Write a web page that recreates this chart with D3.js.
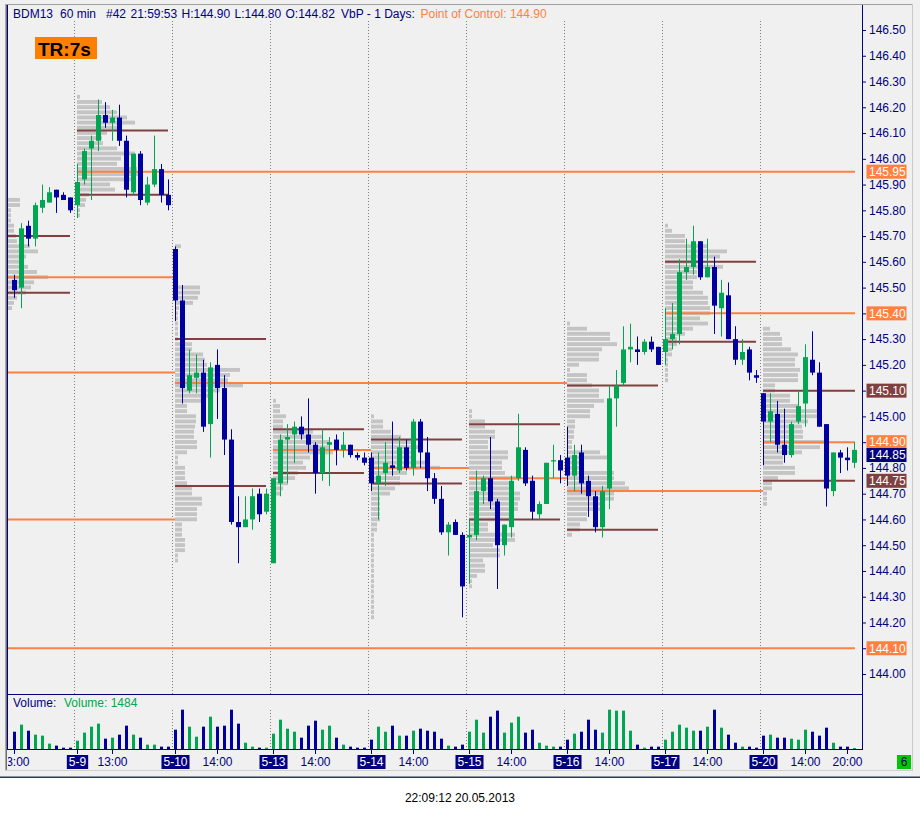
<!DOCTYPE html>
<html>
<head>
<meta charset="utf-8">
<title>BDM13 60 min VbP</title>
<script src="https://cdn.jsdelivr.net/npm/d3@7/dist/d3.min.js"></script>
<style>
html,body{margin:0;padding:0;background:#ffffff;}
svg{display:block;font-family:"Liberation Sans",Arial,Helvetica,sans-serif;}
</style>
</head>
<body>
<svg id="chart" width="920" height="813"></svg>
<script>
// ---------------- DATA ----------------
const dayLabels   = ["5-8","5-9","5-10","5-13","5-14","5-15","5-16","5-17","5-20"];
const dayStart    = [0, 9, 23, 37, 51, 65, 79, 93, 107];
const dayFirstHour = [13, 8, 8, 8, 8, 8, 8, 8, 8];
const sessionOpenHour = 8;

const opens = [
 145.53,145.50,145.74,145.69,145.81,145.83,145.88,145.86,145.85,
 145.82,145.92,146.04,146.07,146.17,146.14,146.16,146.07,145.87,146.02,145.83,145.90,145.96,145.86,
 145.65,145.45,145.10,145.15,145.17,144.97,145.20,145.11,144.91,144.59,144.57,144.60,144.70,144.63,
 144.43,144.74,144.91,144.93,144.96,144.93,144.89,144.78,144.89,144.91,144.87,144.89,144.85,144.84,
 144.84,144.74,144.78,144.81,144.79,144.88,144.80,144.98,144.86,144.76,144.68,144.55,144.59,144.54,
 144.53,144.54,144.71,144.76,144.67,144.50,144.57,144.76,144.87,144.75,144.62,144.66,144.825,144.83,
 144.84,144.77,144.86,144.75,144.69,144.57,144.72,145.07,145.13,145.26,145.26,145.25,145.29,145.27,
 145.25,145.30,145.32,145.56,145.58,145.68,145.54,145.58,145.42,145.47,145.30,145.22,145.26,145.16,
 145.09,144.98,145.01,144.89,144.85,144.98,145.05,145.22,145.17,144.97,144.71,144.86,144.84,144.82
];
const highs = [
 145.55,145.75,145.76,145.83,145.90,145.89,145.88,145.87,145.85,
 145.98,146.04,146.09,146.23,146.22,146.19,146.21,146.09,146.02,146.03,145.93,146.09,145.98,145.92,
 145.66,145.51,145.26,145.24,145.22,145.21,145.26,145.16,144.95,144.69,144.69,144.72,144.72,144.72,
 144.76,144.93,144.97,144.98,145.00,145.07,144.90,144.95,144.92,144.93,144.94,144.89,144.86,144.86,
 144.86,144.86,144.90,144.98,144.92,144.91,144.99,144.99,144.92,144.78,144.73,144.59,144.60,144.55,
 144.60,144.79,144.77,144.92,144.68,144.58,144.77,145.01,144.88,144.77,144.67,144.82,144.89,144.85,
 144.96,144.89,144.89,144.77,144.71,144.73,145.12,145.18,145.35,145.36,145.31,145.30,145.31,145.27,
 145.42,145.44,145.61,145.69,145.74,145.68,145.69,145.62,145.53,145.52,145.35,145.30,145.27,145.18,
 145.09,145.09,145.06,145.03,144.98,145.10,145.28,145.33,145.21,144.97,144.86,144.87,144.88,144.90
];
const lows = [
 145.46,145.42,145.66,145.66,145.79,145.83,145.79,145.84,145.79,
 145.77,145.90,145.84,146.03,146.12,146.07,146.05,145.85,145.86,145.82,145.82,145.89,145.83,145.80,
 145.37,145.05,145.09,145.09,144.94,144.84,144.99,144.85,144.58,144.43,144.57,144.56,144.59,144.62,
 144.43,144.69,144.74,144.82,144.91,144.86,144.70,144.75,144.73,144.81,144.84,144.84,144.83,144.81,
 144.71,144.60,144.73,144.77,144.78,144.79,144.77,144.80,144.71,144.66,144.54,144.46,144.54,144.22,
 144.35,144.52,144.66,144.64,144.33,144.46,144.53,144.75,144.73,144.60,144.60,144.66,144.76,144.74,
 144.73,144.71,144.70,144.61,144.55,144.53,144.64,144.96,145.12,145.21,145.20,145.24,145.25,145.20,
 145.20,145.26,145.28,145.53,145.55,145.53,145.54,145.32,145.31,145.30,145.20,145.20,145.14,145.13,
 144.81,144.90,144.86,144.82,144.84,144.97,144.96,145.16,144.96,144.65,144.69,144.78,144.79,144.80
];
const closes = [
 145.49,145.73,145.69,145.82,145.84,145.87,145.85,145.84,145.80,
 145.91,146.03,146.07,146.17,146.14,146.16,146.07,145.88,146.02,145.84,145.90,145.96,145.86,145.82,
 145.45,145.11,145.16,145.17,144.96,145.19,145.11,144.91,144.59,144.57,144.60,144.69,144.62,144.70,
 144.76,144.91,144.92,144.96,144.93,144.89,144.78,144.88,144.90,144.87,144.89,144.85,144.84,144.82,
 144.74,144.77,144.82,144.80,144.88,144.80,144.98,144.86,144.76,144.68,144.55,144.58,144.54,144.34,
 144.54,144.71,144.76,144.67,144.50,144.58,144.75,144.88,144.74,144.63,144.66,144.82,144.83,144.79,
 144.77,144.85,144.74,144.69,144.57,144.71,145.07,145.12,145.26,145.27,145.25,145.29,145.26,145.20,
 145.30,145.32,145.56,145.58,145.68,145.54,145.58,145.43,145.48,145.30,145.22,145.25,145.17,145.15,
 144.98,145.02,144.89,144.85,144.97,145.04,145.23,145.17,144.96,144.72,144.86,144.84,144.83,144.87
];
const volumes = [
 25800,36300,27300,21400,19900,8000,5000,2000,2000,
 12400,24400,33300,37800,15400,16900,21400,34800,21400,16900,6500,6500,3500,3500,
 28800,58600,33300,18400,33300,48200,33300,34800,58600,37800,9400,3500,2000,2000,
 22900,43700,30300,25800,16900,34800,42200,28800,34800,16900,6500,3500,2000,2000,
 13900,33300,25800,34800,19900,19900,27300,30300,27300,25800,15400,5000,3500,6500,
 25800,43700,24400,48200,57200,24400,39300,48200,24400,28800,9400,5000,3500,3500,
 13900,22900,25800,43700,28800,24400,58600,57200,57200,27300,6500,2000,3500,3500,
 13900,25800,36300,31800,27300,27300,33300,58600,31800,21400,9400,3500,3500,2000,
 19900,21400,16900,16900,15400,13900,28800,25800,19900,31800,9400,3500,3500,1484
];

// Volume-by-price (1 day) levels: value area and point of control per day
const vaHigh = [145.70, 146.11, 145.30, 144.95, 144.91, 144.97, 145.12, 145.60, 145.10];
const vaLow  = [145.48, 145.86, 144.73, 144.78, 144.74, 144.60, 144.56, 145.29, 144.75];
const poc    = [145.54, 145.95, 145.13, 144.87, 144.80, 144.76, 144.71, 145.40, 144.90];
const pocTouchedDay = [2, null, 6, 4, 5, 6, 8, null, null];
const priorPoc = [145.17, 144.60, 144.10];
const priorPocTouchedDay = [2, 2, null];
const lastPrice = 144.85;

// Volume profiles: values from the top price downward in 0.02 steps
const profileStep = 0.02;
const profileTop = [145.84, 146.24, 145.66, 145.06, 145.00, 145.02, 145.36, 145.74, 145.34];
const profile_0508 = [12,12,3,3,3,6,6,8,9,22,30,18,14,20,29,40,26,23,18,9,6,4];
const profile_0509 = [3,25,33,40,50,58,40,30,25,26,40,58,44,40,60,66,55,33,38,12,9,8,3,3];
const profile_0510 = [6,2,2,2,2,2,3,3,25,25,23,18,4,3,3,3,3,3,3,17,17,28,30,32,65,55,53,68,45,35,30,12,12,21,21,20,19,19,22,22,12,3,3,10,10,10,12,17,17,27,27,22,22,22,7,7,7,10,10,10,3,3];
const profile_0513 = [3,7,7,13,10,10,40,50,57,57,60,37,30,33,25,22,15,10,7,3,3,3,3,3,3,3,3,3,3,3,3,3];
const profile_0514 = [3,12,12,20,30,40,49,44,44,55,69,36,29,29,24,19,9,9,9,9,9,6,6,3,3,3,3,3,3,3,3,3,3,3,3,3,3,3,3,3];
const profile_0515 = [3,3,16,16,26,26,19,19,39,39,33,33,36,49,43,43,51,51,49,49,43,43,19,19,46,46,24,31,31,14,16,16,8,3,3];
const profile_0516 = [3,20,43,43,50,35,32,32,12,3,20,20,25,32,32,37,27,23,23,8,8,7,7,5,5,33,40,13,13,47,47,58,62,47,47,33,33,20,20,13,13,5];
const profile_0517 = [3,7,20,20,42,62,55,35,58,32,32,28,28,38,43,43,45,45,35,43,28,20,12,12,7,7,3,3,3,3,3];
const profile_0520 = [7,17,19,19,28,35,32,32,37,35,35,12,12,27,27,35,54,54,45,39,40,40,66,57,39,20,20,32,32,15,9,9,4,4,4];
const profiles = [profile_0508, profile_0509, profile_0510, profile_0513, profile_0514, profile_0515, profile_0516, profile_0517, profile_0520];

// Tick labels
const priceTicks = [144.00,144.10,144.20,144.30,144.40,144.50,144.60,144.70,144.80,144.90,145.00,145.10,145.20,145.30,145.40,145.50,145.60,145.70,145.80,145.90,146.00,146.10,146.20,146.30,146.40,146.50];
const timeTickIdx = [0, 14, 29, 43, 57, 71, 85, 99, 113, 119];
const timeTickLabels = ["13:00","13:00","14:00","14:00","14:00","14:00","14:00","14:00","14:00","20:00"];

// ---------------- STYLE ----------------
const GREEN = "#00a651", BLUE = "#0000a0", NAVY = "#000080";
const ORANGE = "#ff8040", BROWN = "#804040", PROFILE = "#c4c4c4";
const FONT = "'Liberation Sans', Arial, sans-serif";

const W = 920, H = 813;
const plot = {left: 7, right: 862, top: 5, priceBottom: 694, volBottom: 749};
const N = opens.length;

const x  = d3.scaleLinear().domain([0, N - 1]).range([14, 854]);
const y  = d3.scaleLinear().domain([144.0, 146.5]).range([674, 30]);
const yv = d3.scaleLinear().domain([0, 82000]).range([plot.volBottom, plot.priceBottom]);
const wv = d3.scaleLinear().domain([0, 100]).range([0, 100]);

const svg = d3.select("#chart");

// backgrounds
svg.append("rect").attr("width", W).attr("height", H).attr("fill", "#ffffff");
svg.append("rect").attr("width", W).attr("height", 777).attr("fill", "#f0f0f0");
svg.append("rect").attr("x", 0).attr("y", 776.5).attr("width", W).attr("height", 1.5).attr("fill", "#2b3a4e");

// outer panel frame
const frame = svg.append("g");
frame.append("line").attr("x1", 5).attr("x2", 913).attr("y1", 4.5).attr("y2", 4.5).attr("stroke", "#a0a0a0");
frame.append("line").attr("x1", 5.5).attr("x2", 5.5).attr("y1", 4).attr("y2", 771).attr("stroke", "#a8a8a8");
frame.append("line").attr("x1", 6.5).attr("x2", 6.5).attr("y1", 5).attr("y2", 771).attr("stroke", "#707070");
frame.append("line").attr("x1", 912.5).attr("x2", 912.5).attr("y1", 4).attr("y2", 771).attr("stroke", "#c8c8c8");
frame.append("line").attr("x1", 5).attr("x2", 913).attr("y1", 770.5).attr("y2", 770.5).attr("stroke", "#d0d0d0");

const defs = svg.append("defs");
defs.append("clipPath").attr("id", "priceClip").append("rect")
  .attr("x", plot.left + 1).attr("y", plot.top).attr("width", plot.right - plot.left - 1).attr("height", plot.priceBottom - plot.top);
defs.append("clipPath").attr("id", "volClip").append("rect")
  .attr("x", plot.left + 1).attr("y", plot.priceBottom).attr("width", plot.right - plot.left - 1).attr("height", plot.volBottom - plot.priceBottom);
defs.append("clipPath").attr("id", "axisClip").append("rect")
  .attr("x", plot.left + 1).attr("y", plot.volBottom).attr("width", 880).attr("height", 22);

// helpers
const sessionX = d => Math.max(plot.left + 1, x(dayStart[d] - (dayFirstHour[d] - sessionOpenHour)));
const dayEndIdx = d => (d < dayStart.length - 1 ? dayStart[d + 1] - 1 : N - 1);
const rightEnd = x(N - 1) + 1;

// day separators (dotted)
const gSep = svg.append("g");
dayStart.slice(1).forEach(s => {
  const sx = Math.round(x(s)) - 2.5;
  gSep.append("line").attr("x1", sx).attr("x2", sx).attr("y1", 21).attr("y2", plot.priceBottom)
    .attr("stroke", "#808080").attr("stroke-dasharray", "1,2");
  gSep.append("line").attr("x1", sx).attr("x2", sx).attr("y1", 710).attr("y2", plot.volBottom)
    .attr("stroke", "#808080").attr("stroke-dasharray", "1,2");
});

// volume profiles
const gProf = svg.append("g").attr("clip-path", "url(#priceClip)");
profiles.forEach((vals, d) => {
  const x0 = sessionX(d);
  gProf.selectAll(null).data(vals).enter().append("rect")
    .attr("x", x0)
    .attr("y", (v, k) => y(profileTop[d] - k * profileStep + profileStep / 2) + 0.5)
    .attr("width", v => wv(v))
    .attr("height", (v, k) => y(profileTop[d] - k * profileStep - profileStep / 2) - y(profileTop[d] - k * profileStep + profileStep / 2) - 1.3)
    .attr("fill", PROFILE);
});

// level lines
const gLev = svg.append("g").attr("clip-path", "url(#priceClip)");
function hline(price, x1, x2, color) {
  gLev.append("line").attr("x1", x1).attr("x2", x2).attr("y1", y(price)).attr("y2", y(price))
    .attr("stroke", color).attr("stroke-width", 2);
}
priorPoc.forEach((p, k) => {
  const t = priorPocTouchedDay[k];
  hline(p, plot.left + 1, t === null ? rightEnd : x(dayStart[t]), ORANGE);
});
dayStart.forEach((s, d) => {
  const last = d === dayStart.length - 1;
  const xe = last ? rightEnd : x(dayEndIdx(d));
  hline(vaHigh[d], sessionX(d), xe, BROWN);
  hline(vaLow[d], sessionX(d), xe, BROWN);
  const t = pocTouchedDay[d];
  hline(poc[d], sessionX(d), t === null ? rightEnd : x(dayStart[t]), ORANGE);
});

// candles
const gC = svg.append("g").attr("clip-path", "url(#priceClip)");
const idx = d3.range(N);
gC.selectAll("line.wick").data(idx).enter().append("line").attr("class", "wick")
  .attr("x1", i => x(i) + 0.5).attr("x2", i => x(i) + 0.5)
  .attr("y1", i => y(highs[i])).attr("y2", i => y(lows[i]))
  .attr("stroke", i => closes[i] >= opens[i] ? GREEN : BLUE).attr("stroke-width", 1);
gC.selectAll("rect.body").data(idx).enter().append("rect").attr("class", "body")
  .attr("x", i => x(i) - 2).attr("width", 5)
  .attr("y", i => y(Math.max(opens[i], closes[i])))
  .attr("height", i => Math.max(1, y(Math.min(opens[i], closes[i])) - y(Math.max(opens[i], closes[i]))))
  .attr("fill", i => closes[i] >= opens[i] ? GREEN : BLUE);

// volume bars
const gV = svg.append("g").attr("clip-path", "url(#volClip)");
gV.selectAll("rect").data(idx).enter().append("rect")
  .attr("x", i => x(i) - 1).attr("width", 3)
  .attr("y", i => yv(volumes[i])).attr("height", i => yv(0) - yv(volumes[i]))
  .attr("fill", i => closes[i] >= opens[i] ? GREEN : BLUE);

// panel borders
const gB = svg.append("g").attr("stroke", NAVY).attr("stroke-width", 1);
gB.append("line").attr("x1", plot.left + 0.5).attr("x2", plot.left + 0.5).attr("y1", plot.top).attr("y2", plot.volBottom + 1);
gB.append("line").attr("x1", plot.right + 0.5).attr("x2", plot.right + 0.5).attr("y1", plot.top).attr("y2", plot.volBottom + 1);
gB.append("line").attr("x1", plot.left).attr("x2", plot.right + 1).attr("y1", plot.priceBottom + 0.5).attr("y2", plot.priceBottom + 0.5);
gB.append("line").attr("x1", plot.left).attr("x2", plot.right + 1).attr("y1", plot.volBottom + 0.5).attr("y2", plot.volBottom + 0.5);

// price axis
const gA = svg.append("g").attr("transform", `translate(${plot.right},0)`)
  .call(d3.axisRight(y).tickValues(priceTicks).tickSize(4).tickSizeOuter(0).tickPadding(3).tickFormat(d3.format(".2f")));
gA.select(".domain").remove();
gA.attr("font-family", FONT).attr("font-size", 12);
gA.selectAll(".tick line").attr("stroke", NAVY);
gA.selectAll(".tick text").attr("fill", NAVY);

// right-side level labels
const rightLabels = [];
priorPoc.forEach((p, k) => { if (priorPocTouchedDay[k] === null) rightLabels.push([p, ORANGE]); });
poc.forEach((p, d) => { if (pocTouchedDay[d] === null) rightLabels.push([p, ORANGE]); });
rightLabels.push([vaHigh[vaHigh.length - 1], BROWN]);
rightLabels.push([vaLow[vaLow.length - 1], BROWN]);
rightLabels.push([lastPrice, NAVY]);
const gR = svg.append("g").attr("font-family", FONT).attr("font-size", 12);
rightLabels.forEach(([p, col]) => {
  gR.append("rect").attr("x", 866.5).attr("y", y(p) - 7).attr("width", 40).attr("height", 14).attr("fill", col);
  gR.append("text").attr("x", 869).attr("y", y(p) + 4.3).attr("fill", "#ffffff").text(p.toFixed(2));
});

// x axis labels
const gX = svg.append("g").attr("clip-path", "url(#axisClip)").attr("font-family", FONT).attr("font-size", 12);
timeTickIdx.forEach((i, k) => {
  gX.append("line").attr("x1", x(i) + 0.5).attr("x2", x(i) + 0.5).attr("y1", 750).attr("y2", 754).attr("stroke", NAVY);
  gX.append("text").attr("x", x(i) + 0.5).attr("y", 766).attr("text-anchor", "middle").attr("fill", NAVY).text(timeTickLabels[k]);
});
dayStart.slice(1).forEach((s, k) => {
  gX.append("line").attr("x1", x(s) + 0.5).attr("x2", x(s) + 0.5).attr("y1", 750).attr("y2", 754).attr("stroke", NAVY);
  const g = gX.append("g");
  const t = g.append("text").attr("x", x(s) + 0.5).attr("y", 766).attr("text-anchor", "middle").attr("fill", "#ffffff").text(dayLabels[k + 1]);
  const tw = t.node().getComputedTextLength();
  g.insert("rect", "text").attr("x", x(s) + 0.5 - tw / 2 - 2).attr("y", 755).attr("width", tw + 4).attr("height", 14).attr("fill", NAVY);
});

// green status box
svg.append("rect").attr("x", 897).attr("y", 755).attr("width", 14).attr("height", 14).attr("fill", "#00c800");
svg.append("text").attr("x", 904).attr("y", 766).attr("text-anchor", "middle").attr("font-family", FONT).attr("font-size", 12).attr("fill", "#000050").text("6");

// header text
const header = [["BDM13", 13], ["60 min", 60], ["#42", 106], ["21:59:53", 130.5], ["H:144.90", 181.5], ["L:144.80", 234.5], ["O:144.82", 285.5], ["VbP - 1 Days:", 341]];
const gH = svg.append("g").attr("font-family", FONT).attr("font-size", 12);
header.forEach(([t, hx]) => gH.append("text").attr("x", hx).attr("y", 18).attr("fill", NAVY).text(t));
gH.append("text").attr("x", 420.5).attr("y", 18).attr("fill", ORANGE).text("Point of Control: " + poc[poc.length - 1].toFixed(2));

// TR box
svg.append("rect").attr("x", 35).attr("y", 37).attr("width", 62).attr("height", 22).attr("fill", "#ff8000");
svg.append("text").attr("x", 38).attr("y", 55.5).attr("font-family", FONT).attr("font-size", 19).attr("font-weight", "bold").attr("fill", "#000000").text("TR:7s");

// volume panel label
svg.append("text").attr("x", 13).attr("y", 707).attr("font-family", FONT).attr("font-size", 12).attr("fill", NAVY).text("Volume:");
svg.append("text").attr("x", 64).attr("y", 707).attr("font-family", FONT).attr("font-size", 12).attr("fill", GREEN).text("Volume: " + volumes[N - 1]);

// bottom timestamp
svg.append("text").attr("x", 460).attr("y", 802).attr("text-anchor", "middle").attr("font-family", FONT).attr("font-size", 12).attr("fill", "#000000").text("22:09:12 20.05.2013");
</script>
</body>
</html>
